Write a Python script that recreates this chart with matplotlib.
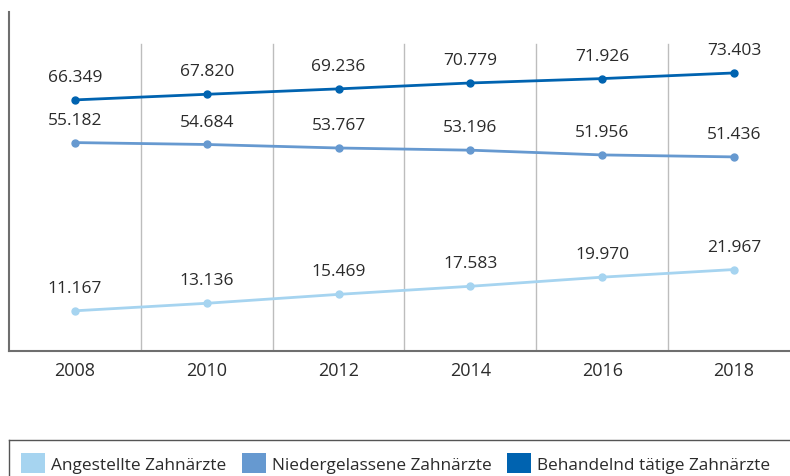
import numpy as np
import matplotlib.pyplot as plt
from matplotlib.patches import Patch
from matplotlib.lines import Line2D

years = ['2008', '2010', '2012', '2014', '2016', '2018']
angestellte = [11.167, 13.136, 15.469, 17.583, 19.970, 21.967]
niedergelassene = [55.182, 54.684, 53.767, 53.196, 51.956, 51.436]
behandelnd = [66.349, 67.820, 69.236, 70.779, 71.926, 73.403]

names = ['Angestellte Zahnärzte', 'Niedergelassene Zahnärzte', 'Behandelnd tätige Zahnärzte']
colors = ['#A6D4F0', '#6699D0', '#0063B0']
text_col = '#2b2b2b'

plt.rcParams['font.family'] = ['Open Sans', 'DejaVu Sans']

fig = plt.figure(figsize=(7.9, 4.77), dpi=100)
ax = fig.add_axes([9 / 790, 1 - 352 / 477, 1 - 9 / 790, 339 / 477])

x = np.arange(len(years))
for vals, c in zip([angestellte, niedergelassene, behandelnd], colors):
    ax.plot(x, vals, color=c, lw=2, marker='o', markersize=5, zorder=3)
    for xi, v in zip(x, vals):
        lbl = f'{v:.3f}'
        ax.annotate(lbl, (xi, v), xytext=(0, 16.5), textcoords='offset points',
                    ha='center', va='center', fontsize=12.5, color=text_col)

# vertical separators between categories
for xs in x[:-1] + 0.5:
    ax.plot([xs, xs], [0.65, 81], color='#bdbdbd', lw=1, zorder=1)

ax.set_xlim(-0.5, 5.425)
ax.set_ylim(0.65, 89.35)
ax.set_xticks(x)
ax.set_xticklabels(years, fontsize=13, color=text_col)
ax.tick_params(axis='x', length=0, pad=7)
ax.set_yticks([])
for s in ['top', 'right']:
    ax.spines[s].set_visible(False)
for s in ['left', 'bottom']:
    ax.spines[s].set_color('#6e6e6e')
    ax.spines[s].set_linewidth(1.5)

# legend frame (open at bottom and right)
fig.add_artist(Line2D([9 / 790, 1], [1 - 441 / 477, 1 - 441 / 477], color='#555555', lw=1, transform=fig.transFigure))
fig.add_artist(Line2D([9 / 790, 9 / 790], [0, 1 - 441 / 477], color='#555555', lw=1, transform=fig.transFigure))

handles = [Patch(facecolor=c, edgecolor='none') for c in colors]
fig.legend(handles, names, loc='center left', bbox_to_anchor=(12 / 790, 1 - 464 / 477),
           ncol=3, frameon=False, fontsize=12.4, handlelength=1.4, handleheight=1.4,
           handletextpad=0.35, columnspacing=0.9, labelcolor=text_col, borderpad=0)

fig.savefig('out.png', dpi=100)
